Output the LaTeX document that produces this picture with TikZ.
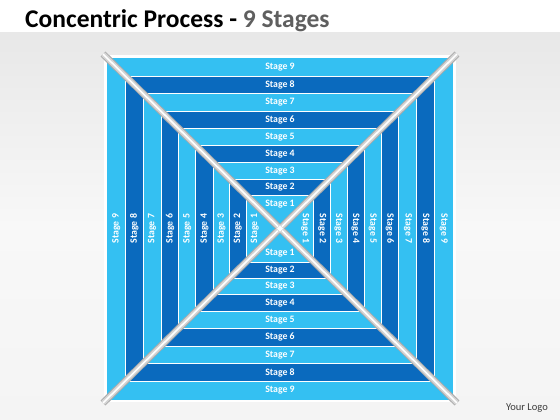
\documentclass[tikz,border=0pt]{standalone}
\usepackage{fontspec}
\setmainfont{Carlito}
\definecolor{lightb}{RGB}{52,192,242}
\definecolor{darkb}{RGB}{10,106,190}
\definecolor{titlegray}{RGB}{95,95,95}
\definecolor{diagout}{RGB}{170,170,170}
\definecolor{diagmid}{RGB}{212,212,212}
\definecolor{logogray}{RGB}{60,60,60}
\begin{document}
\begin{tikzpicture}[x=1pt,y=-1pt,
  lbl/.style={text=white,font=\bfseries\fontsize{9.8}{9.8}\selectfont,inner sep=0pt},
  band/.style={draw=white,line width=0.9pt}]
\useasboundingbox (0,0) rectangle (560,420);
\fill[white] (0,0) rectangle (560,33);
\shade[top color={rgb,255:red,232;green,232;blue,232},bottom color={rgb,255:red,244;green,244;blue,244},middle color={rgb,255:red,248;green,248;blue,248}] (0,33) rectangle (560,420);
% title
\node[anchor=base west,inner sep=0pt] (title) at (25,28)
  {\fontsize{25.5}{25.5}\selectfont\bfseries Concentric Process - \textcolor{titlegray}{9 Stages}};
% concentric squares
\fill[white] (104,55) rectangle (456,402);
\foreach \h/\c in {172.5/lightb,153.5/darkb,135.75/lightb,118/darkb,100.5/lightb,83.5/darkb,66.5/lightb,50/darkb,33.5/lightb}
  \filldraw[band,fill=\c] ({280-1.008*\h},{228.7-0.995*\h}) rectangle ({280+1.008*\h},{228.7+0.995*\h});
% diagonals
\coordinate (tl) at (103,54);
\coordinate (br) at (457,403);
\coordinate (tr) at (457,54);
\coordinate (bl) at (103,403);
\foreach \w/\c in {7/diagout,5/diagmid,1.6/white}{
  \draw[line width=\w pt,color=\c] (tl) -- (br);
  \draw[line width=\w pt,color=\c] (tr) -- (bl);
}
\node[fill=white,draw=diagmid,minimum size=5pt,inner sep=0pt,rotate=45] (ctr) at (280,228.7) {};
% labels
\foreach \k/\d in {1/25,2/42,3/58,4/75,5/92,6/109,7/127,8/144.5,9/162.5}{
  \node[lbl] (t\k) at (280,{228.7-0.995*\d}) {Stage \k};
  \node[lbl] (b\k) at (280,{228.7+0.995*\d}) {Stage \k};
  \node[lbl,rotate=90] (l\k) at ({280-1.008*\d},228.7) {Stage \k};
  \node[lbl,rotate=-90] (r\k) at ({280+1.008*\d},228.7) {Stage \k};
}
\node[anchor=base east,inner sep=0pt,text=logogray] (logo) at (548,410)
  {\fontsize{10.5}{10.5}\selectfont Your Logo};
\end{tikzpicture}
\end{document}
